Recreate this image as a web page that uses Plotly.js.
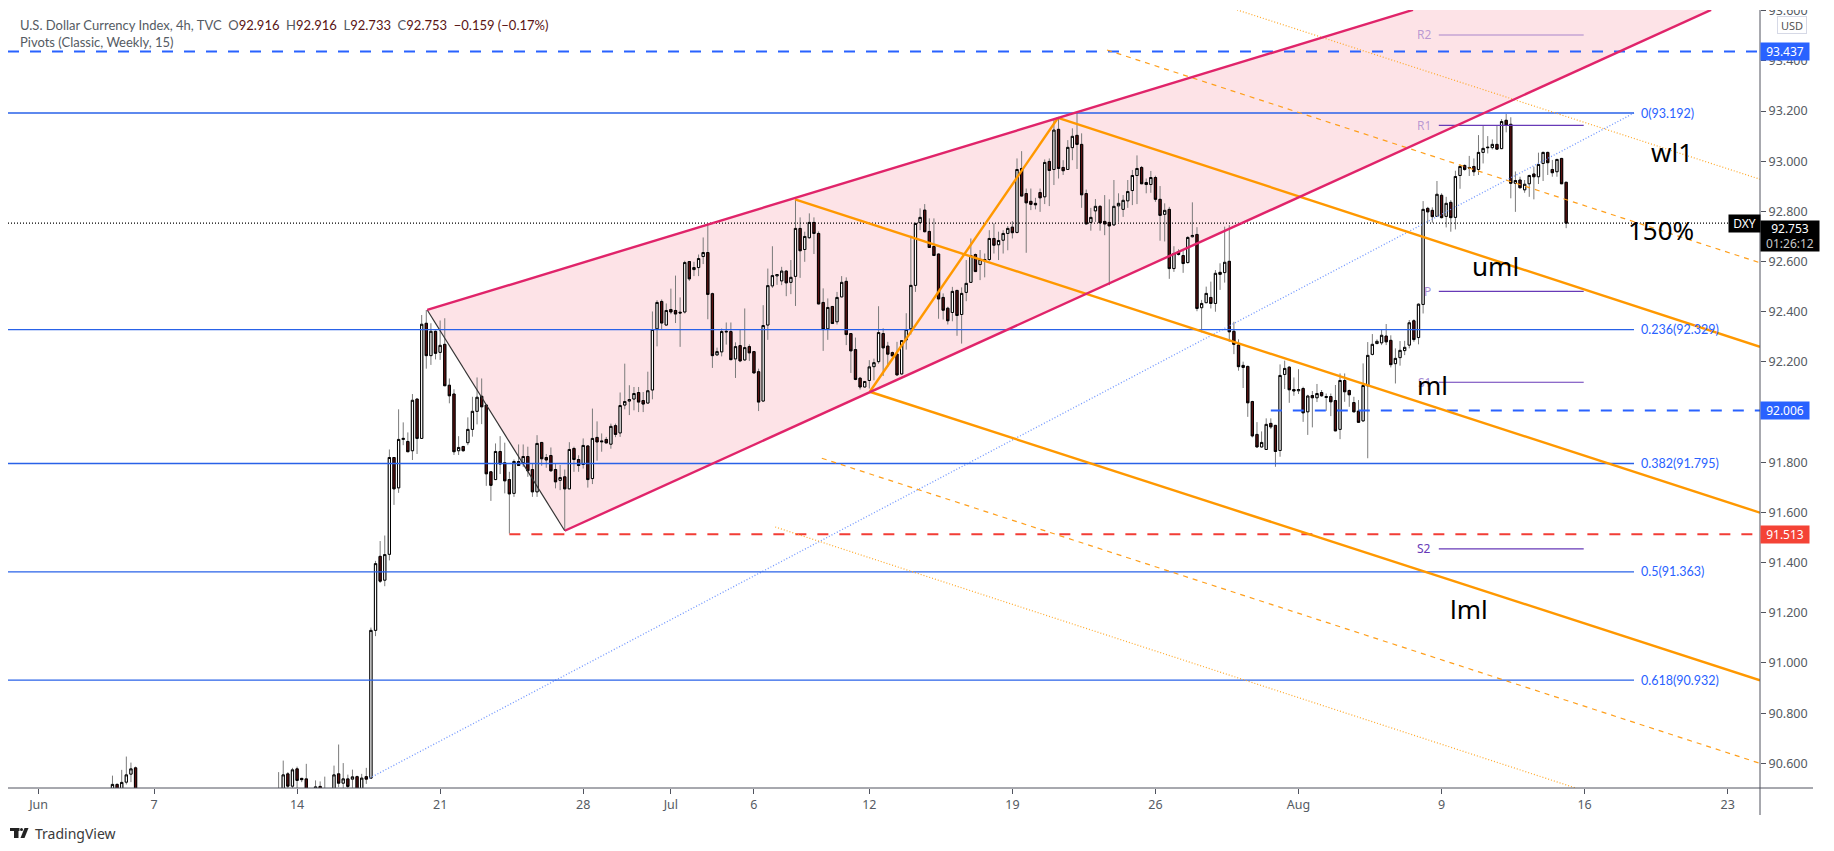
<!DOCTYPE html>
<html><head><meta charset="utf-8">
<script src="https://cdn.plot.ly/plotly-3.0.1.min.js"></script>
<style>html,body{margin:0;padding:0;background:#fff}</style></head>
<body><div id="chart" style="width:1834px;height:851px"></div>
<script>
// ---- bars: index 0 is the Jun 7 session, 31 bars per week
const earlyFirst = -9;
const earlyOpen  = [90.45,90.516,90.47,90.525,90.557,90.582];
const earlyHigh  = [90.551,90.52,90.574,90.627,90.603,90.587];
const earlyLow   = [90.43,90.43,90.45,90.516,90.525,90.46];
const earlyClose = [90.516,90.45,90.524,90.554,90.578,90.48];

const mainFirst = 27;
const mainOpen = [
90.47,90.48,90.558,90.509,90.578,90.540,90.538,90.48,90.47,90.508,
90.48,90.47,90.49,90.558,90.521,90.538,90.537,90.547,90.49,90.547,
90.541,91.130,91.425,91.330,
91.433,91.819,91.698,91.891,91.883,91.846,92.052,91.895,92.354,92.225,
92.322,92.238,92.270,92.107,92.072,91.846,91.863,91.878,91.931,92.003,
92.063,92.028,91.762,91.731,91.843,91.798,91.731,91.676,91.803,91.798,
91.823,91.771,91.682,91.879,91.819,91.827,91.771,91.728,91.742,91.694,
91.855,91.811,91.791,91.865,91.735,91.899,91.885,91.891,91.872,91.946,
91.917,92.028,92.044,92.052,92.078,92.046,92.036,92.088,92.332,92.441,
92.347,92.409,92.405,92.398,92.399,92.600,92.568,92.576,92.620,92.636,
92.472,92.228,92.240,92.322,92.321,92.212,92.265,92.208,92.261,92.241,
92.161,92.044,92.347,92.503,92.543,92.523,92.562,92.517,92.541,92.732,
92.648,92.695,92.756,92.712,92.437,92.332,92.421,92.360,92.459,92.521,
92.313,92.249,92.135,92.100,92.126,92.181,92.201,92.313,92.263,92.237,
92.231,92.152,92.288,92.332,92.505,92.755,92.805,92.720,92.660,92.630,
92.457,92.414,92.397,92.485,92.389,92.477,92.517,92.628,92.588,92.608,
92.608,92.692,92.667,92.685,92.712,92.737,92.716,92.971,92.871,92.840,
92.832,92.875,92.858,92.999,92.967,93.127,92.975,92.967,93.054,93.103,
93.067,92.871,92.756,92.802,92.820,92.760,92.756,92.746,92.822,92.808,
92.842,92.883,92.943,92.975,92.915,92.907,92.935,92.848,92.788,92.808,
92.572,92.639,92.624,92.596,92.699,92.708,92.416,92.436,92.457,92.433,
92.557,92.556,92.601,92.322,92.267,92.186,92.182,92.042,91.911,91.861,
91.851,91.955,91.947,91.847,92.150,92.179,92.090,92.085,92.094,92.001,
92.066,92.057,92.078,92.058,92.062,92.046,91.931,92.126,92.086,92.038,
92.004,91.965,92.105,92.230,92.273,92.276,92.303,92.286,92.193,92.217,
92.245,92.267,92.364,92.297,92.429,92.812,92.804,92.780,92.864,92.780,
92.836,92.776,92.943,92.983,92.975,92.979,92.967,93.035,93.056,93.054,
93.067,93.050,93.163,93.147,92.912,92.925,92.886,92.910,92.949,92.938,
92.991,93.035,92.967,92.958,93.011,92.916];
const mainHigh = [
90.565,90.611,90.565,90.582,90.587,90.542,90.598,90.495,90.532,90.528,
90.547,90.49,90.591,90.675,90.601,90.555,90.575,90.551,90.558,90.582,
91.141,91.407,91.486,91.508,
91.851,91.819,92.011,91.959,91.919,92.072,92.052,92.387,92.407,92.354,
92.325,92.365,92.374,92.134,92.091,91.904,91.864,91.979,92.061,92.138,
92.134,92.028,91.762,91.875,91.904,91.878,91.762,91.811,91.871,91.871,
91.862,91.795,91.908,91.879,91.833,91.859,91.795,91.789,91.771,91.880,
91.862,91.828,91.895,91.868,92.014,91.963,91.915,91.901,91.954,91.954,
92.078,92.193,92.107,92.100,92.100,92.080,92.161,92.401,92.446,92.449,
92.433,92.492,92.544,92.457,92.603,92.601,92.599,92.628,92.696,92.749,
92.476,92.257,92.333,92.357,92.357,92.278,92.329,92.413,92.270,92.241,
92.173,92.426,92.572,92.661,92.550,92.579,92.566,92.606,92.845,92.776,
92.719,92.792,92.776,92.720,92.493,92.453,92.422,92.479,92.542,92.537,
92.313,92.297,92.140,92.123,92.207,92.213,92.422,92.334,92.280,92.241,
92.280,92.286,92.394,92.703,92.755,92.812,92.829,92.772,92.772,92.632,
92.473,92.420,92.499,92.486,92.497,92.606,92.692,92.632,92.646,92.632,
92.725,92.752,92.719,92.725,92.741,92.761,93.011,93.040,92.891,92.891,
92.854,92.891,93.007,93.011,93.164,93.171,93.004,93.084,93.131,93.191,
93.111,92.887,92.814,92.849,92.825,92.865,92.848,92.925,92.872,92.865,
92.925,92.965,93.023,92.981,92.931,92.961,92.942,92.901,92.832,92.818,
92.661,92.649,92.648,92.701,92.836,92.737,92.447,92.500,92.520,92.566,
92.593,92.739,92.745,92.360,92.290,92.201,92.185,92.045,91.960,91.923,
91.975,91.975,91.949,92.190,92.205,92.183,92.138,92.171,92.101,92.069,
92.084,92.112,92.088,92.074,92.074,92.108,92.154,92.154,92.090,92.061,
92.048,92.194,92.279,92.311,92.290,92.330,92.351,92.306,92.254,92.283,
92.284,92.367,92.370,92.433,92.841,92.818,92.816,92.921,92.872,92.858,
92.845,92.962,92.987,92.987,93.021,93.011,93.104,93.140,93.100,93.087,
93.144,93.168,93.188,93.175,92.959,92.938,92.925,92.946,92.978,93.034,
93.038,93.038,93.005,93.009,93.013,92.916];
const mainLow = [
90.45,90.46,90.49,90.50,90.498,90.525,90.45,90.44,90.45,90.45,
90.44,90.44,90.47,90.505,90.498,90.49,90.502,90.47,90.47,90.518,
90.538,91.107,91.319,91.306,
91.409,91.630,91.678,91.868,91.842,91.809,91.833,91.895,92.173,92.188,
92.210,92.208,92.104,92.035,91.829,91.829,91.842,91.868,91.902,91.951,
91.952,91.706,91.646,91.729,91.753,91.676,91.516,91.662,91.786,91.782,
91.742,91.662,91.662,91.786,91.778,91.762,91.696,91.689,91.529,91.694,
91.762,91.762,91.775,91.699,91.713,91.806,91.842,91.877,91.854,91.90,
91.901,92.011,91.988,92.007,92.000,92.000,92.036,92.051,92.262,92.329,
92.345,92.390,92.355,92.260,92.393,92.523,92.542,92.542,92.590,92.370,
92.176,92.225,92.222,92.269,92.207,92.136,92.199,92.204,92.204,92.156,
92.004,92.042,92.288,92.495,92.507,92.506,92.462,92.470,92.423,92.535,
92.599,92.691,92.630,92.430,92.244,92.288,92.353,92.349,92.459,92.267,
92.156,92.127,92.090,92.098,92.094,92.127,92.193,92.144,92.180,92.224,
92.147,92.150,92.249,92.309,92.479,92.725,92.716,92.656,92.623,92.372,
92.369,92.349,92.362,92.304,92.273,92.442,92.517,92.559,92.526,92.537,
92.603,92.632,92.606,92.632,92.645,92.692,92.712,92.861,92.635,92.805,
92.808,92.798,92.829,92.821,92.905,92.931,92.945,92.965,93.004,92.969,
92.814,92.749,92.723,92.758,92.723,92.705,92.506,92.742,92.758,92.778,
92.814,92.825,92.829,92.909,92.872,92.874,92.838,92.683,92.680,92.531,
92.559,92.624,92.555,92.592,92.696,92.402,92.318,92.436,92.413,92.400,
92.487,92.516,92.280,92.231,92.165,92.096,91.981,91.899,91.860,91.859,
91.849,91.933,91.782,91.822,92.092,92.037,92.065,92.072,91.961,91.909,
91.939,92.040,92.061,92.005,91.984,91.925,91.892,92.041,92.021,92.000,
91.957,91.961,91.816,92.226,92.273,92.267,92.267,92.178,92.114,92.185,
92.227,92.254,92.28,92.270,92.393,92.755,92.755,92.779,92.772,92.736,
92.719,92.728,92.890,92.962,92.941,92.941,92.945,92.991,93.031,93.047,
93.047,93.048,93.115,92.852,92.798,92.892,92.874,92.858,92.848,92.909,
92.921,92.945,92.938,92.938,92.909,92.733];
const mainClose = [
90.49,90.554,90.509,90.574,90.532,90.535,90.47,90.45,90.506,90.47,
90.47,90.45,90.554,90.521,90.538,90.508,90.546,90.48,90.541,90.537,
91.130,91.396,91.326,91.432,
91.819,91.694,91.891,91.895,91.842,92.047,91.895,92.350,92.225,92.322,
92.234,92.266,92.105,92.065,91.842,91.859,91.846,91.931,92.003,92.059,
92.021,91.754,91.708,91.843,91.793,91.726,91.674,91.803,91.787,91.823,
91.766,91.682,91.875,91.814,91.809,91.766,91.722,91.739,91.694,91.851,
91.811,91.787,91.867,91.731,91.895,91.881,91.882,91.877,91.943,91.911,
92.026,92.042,92.050,92.074,92.040,92.032,92.085,92.329,92.437,92.355,
92.405,92.399,92.391,92.395,92.596,92.531,92.576,92.612,92.636,92.469,
92.225,92.241,92.321,92.320,92.209,92.261,92.204,92.257,92.236,92.156,
92.040,92.345,92.504,92.544,92.548,92.562,92.515,92.537,92.732,92.643,
92.700,92.756,92.712,92.431,92.329,92.417,92.353,92.457,92.517,92.309,
92.244,92.130,92.100,92.122,92.180,92.197,92.317,92.256,92.231,92.224,
92.148,92.285,92.329,92.505,92.752,92.776,92.719,92.656,92.624,92.451,
92.406,92.364,92.481,92.385,92.473,92.513,92.624,92.560,92.608,92.603,
92.692,92.665,92.684,92.712,92.732,92.715,92.967,92.861,92.834,92.828,
92.826,92.854,92.995,92.963,93.124,92.971,92.962,93.055,93.099,93.067,
92.866,92.750,92.776,92.820,92.754,92.750,92.742,92.820,92.832,92.844,
92.879,92.943,92.971,92.910,92.907,92.935,92.848,92.784,92.804,92.572,
92.632,92.628,92.592,92.696,92.704,92.413,92.433,92.473,92.433,92.553,
92.549,92.597,92.320,92.270,92.181,92.178,92.037,91.905,91.861,91.879,
91.951,91.941,91.843,92.146,92.174,92.089,92.084,92.090,91.997,92.064,
92.057,92.074,92.065,92.062,92.041,91.925,92.126,92.081,92.069,92.001,
91.959,92.106,92.226,92.270,92.282,92.306,92.280,92.189,92.214,92.246,
92.258,92.356,92.289,92.430,92.808,92.798,92.779,92.868,92.775,92.832,
92.775,92.939,92.979,92.967,92.973,92.958,93.035,93.051,93.054,93.067,
93.048,93.158,93.143,92.912,92.923,92.894,92.908,92.943,92.938,92.987,
93.035,92.994,92.954,93.007,92.910,92.753];

// ---- axes
const xTickVals = [-25,0,31,62,93,112,130,155,186,217,248,279,310,341];
const xTickText = ['Jun','7','14','21','28','Jul','6','12','19','26','Aug','9','16','23'];
const yTickVals = [90.6,90.8,91.0,91.2,91.4,91.6,91.8,92.0,92.2,92.4,92.6,92.8,93.0,93.2,93.4,93.6];
const xRange = [-31.64,348];
const yRange = [90.5017,93.6026];

// ---- drawings (bar index, price)
const wedgeUpperX = [59.2,272.8];  const wedgeUpperY = [92.407,93.603];
const wedgeLowerX = [89,337.4];    const wedgeLowerY = [91.527,93.603];
const riseX = [59.2,89];           const riseY = [92.407,91.527];
const forkHandleX = [155.1,195.9]; const forkHandleY = [92.081,93.173];
const forkUpperX = [195.9,348];    const forkUpperY = [93.173,92.26];
const forkMidX = [138.9,348];      const forkMidY = [92.848,91.599];
const forkLowerX = [155.1,348];    const forkLowerY = [92.081,90.931];
const dashUpX = [206.5,348];       const dashUpY = [93.443,92.595];
const dotUpX = [234.7,348];        const dotUpY = [93.603,92.928];
const dashLowX = [144.7,348];      const dashLowY = [91.816,90.6];
const dotLowX = [134.6,308];       const dotLowY = [91.542,90.502];
const fibTrendX = [46.7,320.7];    const fibTrendY = [90.541,93.192];
const fibLevels = [93.192,92.329,91.795,91.363,90.932];
const fibLabels = ['0(93.192)','0.236(92.329)','0.382(91.795)','0.5(91.363)','0.618(90.932)'];
const fibEndX = 320.7;
const pivotStart = 278.4, pivotEnd = 309.8;
const pivotLevels = [93.503,93.143,92.481,92.119,91.455];
const pivotNames = ['R2','R1','P','S1','S2'];
const pivotAlpha = [0.55,1,1,1,1];
const pivotTextAlpha = [0.45,0.45,0.6,0.6,1];
const noteTexts = ['wl1','150%','uml','ml','lml'];
const noteX = [329,326.6,290.6,277,285];
const noteY = [93.037,92.726,92.582,92.108,91.215];
const lastPrice = 92.753;

// ---- colours
const BLUE='#2962ff', PINK='#e0246a', ORANGE='#ff9800', PURPLE='103,58,183', GREY='#555b63';
const FONT='"Noto Sans", sans-serif', NARROW='Lato, sans-serif';

const px2x = p => (p-8)/1752;        // paper helpers for chrome outside the plot
const px2y = p => (788-p)/778;

const barX = earlyOpen.map((_,k)=>earlyFirst+k).concat(mainOpen.map((_,k)=>mainFirst+k));
const O = earlyOpen.concat(mainOpen), H = earlyHigh.concat(mainHigh),
      L = earlyLow.concat(mainLow),  C = earlyClose.concat(mainClose);

const line = (x,y,color,width,dash)=>({type:'scatter',mode:'lines',x,y,hoverinfo:'skip',showlegend:false,
  line:{color,width,dash:dash||'solid'}});

const traces = [
  // wicks
  {type:'candlestick',x:barX,open:O,high:H,low:L,close:C,hoverinfo:'skip',showlegend:false,width:0.02,whiskerwidth:0,
   increasing:{line:{color:'#7b7b7b',width:1},fillcolor:'#7b7b7b'},
   decreasing:{line:{color:'#7b7b7b',width:1},fillcolor:'#7b7b7b'}},
  // bodies
  {type:'candlestick',x:barX,open:O,close:C,
   high:O.map((v,k)=>Math.max(v,C[k])),low:O.map((v,k)=>Math.min(v,C[k])),
   hoverinfo:'skip',showlegend:false,width:0.55,whiskerwidth:0,
   increasing:{line:{color:'#000',width:1},fillcolor:'#fff'},
   decreasing:{line:{color:'#000',width:1},fillcolor:'#5a1010'}},
  line(riseX,riseY,'#333',1.2),
  line(fibTrendX,fibTrendY,'#6f95ff',1.3,'1px,2px'),
  ...fibLevels.map(v=>line([xRange[0],fibEndX],[v,v],'#2962e8',1.3)),
  line([xRange[0],xRange[1]],[93.437,93.437],BLUE,2,'11px,11px'),
  line([242,xRange[1]],[92.006,92.006],BLUE,2,'11px,11px'),
  line([77,xRange[1]],[91.513,91.513],'#f23d36',2,'11px,11px'),
  line([xRange[0],xRange[1]],[lastPrice,lastPrice],'#000',1.2,'1px,2px'),
  ...pivotLevels.map((v,k)=>line([pivotStart,pivotEnd],[v,v],`rgba(${PURPLE},${pivotAlpha[k]})`,1.2)),
  line(forkHandleX,forkHandleY,ORANGE,2.4),
  line(forkUpperX,forkUpperY,ORANGE,2.4),
  line(forkMidX,forkMidY,ORANGE,2.4),
  line(forkLowerX,forkLowerY,ORANGE,2.4),
  line(dashUpX,dashUpY,'#ff9f1c',1.2,'5px,5px'),
  line(dashLowX,dashLowY,'#ff9f1c',1.2,'5px,5px'),
  line(dotUpX,dotUpY,'#ffa726',1.2,'1px,2px'),
  line(dotLowX,dotLowY,'#ffa726',1.2,'1px,2px'),
  line(wedgeUpperX,wedgeUpperY,PINK,2.4),
  line(wedgeLowerX,wedgeLowerY,PINK,2.4),
];

const badge = (text,yv,bg,color,w,h,xpx)=>({xref:'paper',yref:'y',x:px2x(xpx),y:yv,text,showarrow:false,
  bgcolor:bg,width:w,height:h,font:{family:FONT,size:12,color},align:'center',valign:'middle',xanchor:'left',yanchor:'middle',borderpad:0});

const annotations = [
  {xref:'paper',yref:'paper',x:px2x(18),y:px2y(25),xanchor:'left',yanchor:'middle',showarrow:false,align:'left',
   font:{family:NARROW,size:13,color:GREY},
   text:'U.S. Dollar Currency Index, 4h, TVC  O<span style="color:#5a1414">92.916</span>  H<span style="color:#5a1414">92.916</span>  L<span style="color:#5a1414">92.733</span>  C<span style="color:#5a1414">92.753</span>  <span style="color:#5a1414">−0.159 (−0.17%)</span>'},
  {xref:'paper',yref:'paper',x:px2x(18),y:px2y(42),xanchor:'left',yanchor:'middle',showarrow:false,
   font:{family:NARROW,size:13,color:GREY},text:'Pivots (Classic, Weekly, 15)'},
  ...fibLevels.map((v,k)=>({xref:'x',yref:'y',x:321.8,y:v,text:fibLabels[k],xanchor:'left',yanchor:'middle',showarrow:false,
    font:{family:NARROW,size:12.5,color:BLUE}})),
  ...pivotLevels.map((v,k)=>({xref:'x',yref:'y',x:pivotStart-1.2,y:v,text:pivotNames[k],xanchor:'right',yanchor:'middle',showarrow:false,
    font:{family:FONT,size:12,color:`rgba(${PURPLE},${pivotTextAlpha[k]})`}})),
  ...noteTexts.map((t,k)=>({xref:'x',yref:'y',x:noteX[k],y:noteY[k],text:t,xanchor:'center',yanchor:'middle',showarrow:false,
    font:{family:FONT,size:26,color:'#000'}})),
  badge('93.437',93.437,BLUE,'#fff',48,17,1760),
  badge('92.006',92.006,BLUE,'#fff',48,17,1760),
  badge('91.513',91.513,'#f44336','#fff',48,17,1760),
  badge('92.753<br><span style="color:#c8c8c8">01:26:12</span>',92.70,'#000','#fff',58,30,1760),
  badge('DXY',lastPrice,'#000','#fff',31,17,1728),
  {xref:'paper',yref:'paper',x:px2x(1792),y:px2y(25),xanchor:'center',yanchor:'middle',showarrow:false,
   text:'USD',font:{family:FONT,size:11,color:'#555'},bordercolor:'#d6d9e6',borderwidth:1,borderpad:1,bgcolor:'#fff',width:26,height:14},
  {xref:'paper',yref:'paper',x:px2x(33),y:px2y(833),xanchor:'left',yanchor:'middle',showarrow:false,
   text:'TradingView',font:{family:FONT,size:14,color:'#3a3a3a'}},
];

const paperRect=(a,b,c,d,fill)=>({type:'rect',xref:'paper',yref:'paper',x0:px2x(a),x1:px2x(c),y0:px2y(b),y1:px2y(d),fillcolor:fill,line:{width:0},layer:'above'});

const shapes = [
  {type:'path',xref:'x',yref:'y',layer:'below',line:{width:0},fillcolor:'#fde3e7',
   path:`M ${wedgeUpperX[0]} ${wedgeUpperY[0]} L ${wedgeUpperX[1]} ${wedgeUpperY[1]} L ${wedgeLowerX[1]} ${wedgeLowerY[1]} L ${wedgeLowerX[0]} ${wedgeLowerY[0]} Z`},
  // hides the top of the clipped 93.600 tick
  paperRect(1761,0,1834,10,'#fff'),
  // axis rules
  {type:'line',xref:'paper',yref:'paper',x0:0,x1:px2x(1813),y0:0,y1:0,line:{color:'#50535e',width:1}},
  {type:'line',xref:'paper',yref:'paper',x0:1,x1:1,y0:1,y1:px2y(815),line:{color:'#50535e',width:1}},
  // logo
  paperRect(10,828,19.5,831,'#222'),
  paperRect(14,828,18.5,838,'#222'),
  {type:'circle',xref:'paper',yref:'paper',x0:px2x(20),x1:px2x(23),y0:px2y(828),y1:px2y(831),fillcolor:'#222',line:{width:0},layer:'above'},
  {type:'path',xref:'paper',yref:'paper',fillcolor:'#222',line:{width:0},layer:'above',
   path:`M ${px2x(24.5)} ${px2y(828)} L ${px2x(28.5)} ${px2y(828)} L ${px2x(24.5)} ${px2y(838)} L ${px2x(20.5)} ${px2y(838)} Z`},
];

Plotly.newPlot('chart',traces,{
  width:1834,height:851,autosize:false,
  margin:{l:8,r:74,t:10,b:63,pad:0},
  paper_bgcolor:'#fff',plot_bgcolor:'#fff',showlegend:false,hovermode:false,dragmode:false,
  xaxis:{range:xRange,type:'linear',tickmode:'array',tickvals:xTickVals,ticktext:xTickText,ticks:'outside',ticklen:5,tickcolor:'#50535e',tickwidth:1,
    showgrid:false,zeroline:false,showline:false,fixedrange:true,rangeslider:{visible:false},
    tickfont:{family:FONT,size:12.5,color:GREY}},
  yaxis:{range:yRange,side:'right',tickmode:'array',tickvals:yTickVals,ticktext:yTickVals.map(v=>v.toFixed(3)),ticks:'outside',ticklen:5,tickcolor:'#50535e',tickwidth:1,
    showgrid:false,zeroline:false,showline:false,fixedrange:true,
    tickfont:{family:FONT,size:12.5,color:GREY}},
  shapes,annotations
},{displayModeBar:false,staticPlot:true});
</script></body></html>
